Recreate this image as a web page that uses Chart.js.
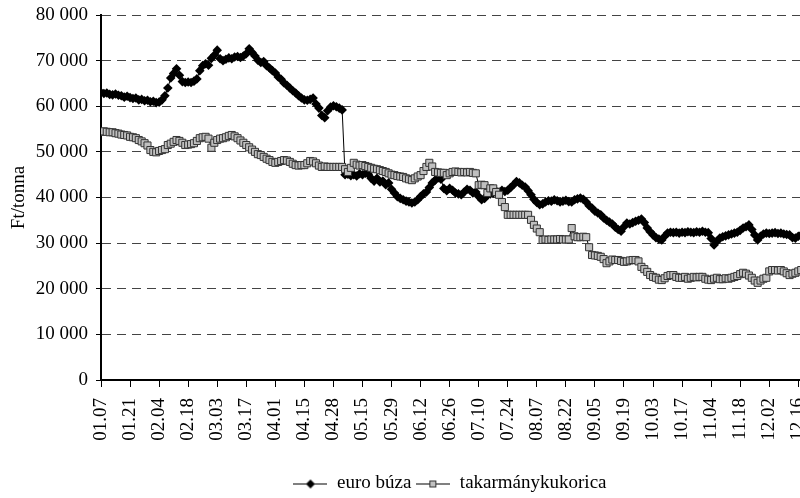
<!DOCTYPE html>
<html>
<head>
<meta charset="utf-8">
<script src="https://cdn.jsdelivr.net/npm/chart.js@4/dist/chart.umd.min.js"></script>
<style>
  html, body { margin: 0; padding: 0; background: #fff; }
  #wrap { width: 800px; height: 498px; overflow: hidden; position: relative; }
  canvas { display: block; }
</style>
</head>
<body>
<div id="wrap"><canvas id="c" width="920" height="498"></canvas></div>
<script>
// Tick labels (every 10th trading day)
const tickLabels = ['01.07','01.21','02.04','02.18','03.03','03.17','04.01','04.15','04.28','05.15','05.29','06.12','06.26','07.10','07.24','08.07','08.22','09.05','09.19','10.03','10.17','11.04','11.18','12.02','12.16'];

const seriesNames = ['euro búza', 'takarmánykukorica'];

// euro búza (Ft/tonna), one value per trading day
const euroBuza = [
  63000,62800,62900,62600,62500,62700,62400,62300,62000,62200,
  61900,61700,61800,61400,61500,61200,61300,61000,61100,60800,
  60900,61400,62300,64000,66200,67200,68200,66800,65400,65200,
  65300,65200,65500,66000,67800,68900,69300,69000,70500,71200,
  72300,70400,70000,70300,70600,70400,70800,70900,70700,71000,
  71500,72600,71800,71000,70100,69600,69800,68900,68400,67800,
  67300,66400,65900,65100,64600,64000,63400,62900,62300,61800,
  61400,61300,61500,61800,60500,59600,58000,57500,59000,59800,
  60100,59900,59600,59200,45000,45100,44800,45000,44700,45200,
  45000,45300,45100,44200,43600,44200,43400,43600,42800,43200,
  41800,41000,40200,39800,39500,39200,39000,38800,39000,39500,
  40200,40800,41200,42200,43200,43800,44300,44000,42000,41500,
  42000,41600,41000,40800,40600,41200,41800,41600,41000,41200,
  40200,39500,39800,40500,40800,41000,41400,41200,41600,41300,
  41600,42200,42800,43500,43200,42700,42300,41500,40600,39600,
  38900,38400,38600,39000,39300,39200,39500,39300,39000,39200,
  39400,39100,39000,39500,39700,39900,39600,39000,38200,37700,
  37000,36600,36200,35500,35000,34600,34200,33500,33000,32600,
  33600,34400,34200,34500,34800,35000,35300,34500,33300,32500,
  31800,31200,30900,30700,31500,32200,32400,32300,32400,32200,
  32400,32300,32500,32400,32300,32500,32400,32600,32400,32300,
  31000,29600,30400,31100,31400,31600,31800,32000,32200,32400,
  32800,33300,33600,34000,33000,31800,30700,31500,32000,32200,
  32100,32200,32300,32100,32200,32000,31900,31800,31200,31100,
  31500,31800,31700
];

// takarmánykukorica (Ft/tonna)
const kukorica = [
  54400,54500,54400,54300,54300,54100,54000,53800,53700,53600,
  53300,53200,53000,52600,52300,51900,51400,50400,50000,49900,
  50200,50400,50600,51500,51800,52200,52600,52400,52000,51500,
  51600,51700,51900,52400,53000,53200,53300,52900,50900,52000,
  52600,52900,53000,53200,53500,53700,53400,53000,52500,52000,
  51500,51000,50500,50000,49500,49300,48900,48500,48200,47800,
  47600,47800,48000,48200,48100,47800,47400,47100,47000,47100,
  47100,47500,48000,47900,47500,47000,46700,46800,46700,46700,
  46700,46700,46700,46700,46200,45600,46500,47600,47200,47000,
  47100,46900,46700,46500,46300,46200,46000,45800,45600,45300,
  45000,44900,44700,44600,44500,44200,44000,43800,44200,44600,
  44900,45800,46700,47600,46800,45600,45500,45400,45400,44900,
  45300,45600,45700,45600,45500,45600,45500,45600,45400,45300,
  42700,42800,42700,41000,42000,42000,41200,40600,39000,37900,
  36200,36200,36200,36200,36200,36200,36200,36200,35100,34000,
  33200,32400,30700,30800,30700,30800,30800,30800,30900,30800,
  30800,30800,33300,31500,31300,31300,31400,31300,29100,27400,
  27300,27200,27000,26500,25600,26000,26400,26300,26300,26100,
  25900,26000,26200,26300,26300,26000,24800,24300,23700,23000,
  22600,22400,22000,21900,22300,22800,23000,23000,22600,22400,
  22400,22600,22200,22400,22600,22500,22600,22600,22200,22000,
  21900,22200,22400,22100,22100,22300,22200,22400,22600,22800,
  23200,23500,23300,22900,22400,21800,21300,21800,22200,22400,
  23800,24100,24100,24000,24100,23800,23400,23000,23300,23500,
  23800,24100,24000
];

const FONT = 'Liberation Serif, Times New Roman, serif';

function legendIcon(kind) {
  const c = document.createElement('canvas');
  c.width = 34; c.height = 12;
  const g = c.getContext('2d');
  g.strokeStyle = '#000'; g.lineWidth = 1;
  g.beginPath(); g.moveTo(0, 6.5); g.lineTo(34, 6.5); g.stroke();
  if (kind === 'diamond') {
    g.fillStyle = '#000';
    g.beginPath(); g.moveTo(17, 2); g.lineTo(21.5, 6.5); g.lineTo(17, 11); g.lineTo(12.5, 6.5); g.closePath(); g.fill();
  } else {
    g.fillStyle = '#C0C0C0';
    g.fillRect(13.5, 3.5, 6, 6);
    g.strokeStyle = '#333';
    g.strokeRect(13.5, 3.5, 6, 6);
  }
  return c;
}
const icons = [legendIcon('diamond'), legendIcon('square')];

const fmt = v => String(v).replace(/\B(?=(\d{3})+(?!\d))/g, ' ');

new Chart(document.getElementById('c'), {
  type: 'line',
  data: {
    datasets: [
      {
        label: seriesNames[0],
        data: euroBuza.map((v, i) => ({ x: i, y: v })),
        borderColor: '#000', borderWidth: 1,
        pointStyle: 'rectRot', pointRadius: 4.8,
        pointBackgroundColor: '#000', pointBorderColor: '#000', pointBorderWidth: 0,
        tension: 0, order: 1
      },
      {
        label: seriesNames[1],
        data: kukorica.map((v, i) => ({ x: i, y: v })),
        borderColor: '#000', borderWidth: 1,
        pointStyle: 'rect', pointRadius: 5,
        pointBackgroundColor: '#C0C0C0', pointBorderColor: '#333', pointBorderWidth: 1,
        tension: 0, order: 0
      }
    ]
  },
  options: {
    responsive: false,
    animation: false,
    devicePixelRatio: 1,
    layout: { padding: { top: 15, right: 20, left: 0, bottom: -5 } },
    plugins: {
      tooltip: { enabled: false },
      legend: {
        position: 'bottom',
        labels: {
          color: '#000',
          font: { family: FONT, size: 19 },
          usePointStyle: true,
          pointStyleWidth: 34,
          padding: 5,
          generateLabels: () => seriesNames.map((n, i) => ({
            text: n, pointStyle: icons[i], datasetIndex: i, hidden: false,
            fillStyle: '#000', strokeStyle: '#000', lineWidth: 0, fontColor: '#000'
          }))
        }
      }
    },
    scales: {
      x: {
        type: 'linear',
        min: 0, max: 275,
        afterFit: s => { s.height = 89; },
        grid: { drawOnChartArea: false, drawTicks: true, tickLength: 7, tickColor: '#000', tickWidth: 1 },
        border: { display: true, color: '#000', width: 2 },
        ticks: {
          stepSize: 10, autoSkip: false, includeBounds: false,
          minRotation: 90, maxRotation: 90,
          color: '#000', padding: 11,
          font: { family: FONT, size: 19 },
          callback: v => (v % 10 === 0 && tickLabels[v / 10] !== undefined) ? tickLabels[v / 10] : ''
        }
      },
      y: {
        min: 0, max: 80000,
        afterFit: s => { s.width = 101; s.paddingTop = 0; s.paddingBottom = 0; },
        grid: { color: '#444', lineWidth: 1, drawTicks: true, tickLength: 5, tickColor: '#000', tickBorderDash: [] },
        border: { display: true, color: '#000', width: 2, dash: [9, 6] },
        ticks: {
          stepSize: 10000, color: '#000', padding: 8,
          font: { family: FONT, size: 19 },
          callback: v => fmt(v)
        },
        title: { display: true, text: 'Ft/tonna', color: '#000', font: { family: FONT, size: 19 }, padding: { top: 8, bottom: 0 } }
      }
    }
  }
});
</script>
</body>
</html>
